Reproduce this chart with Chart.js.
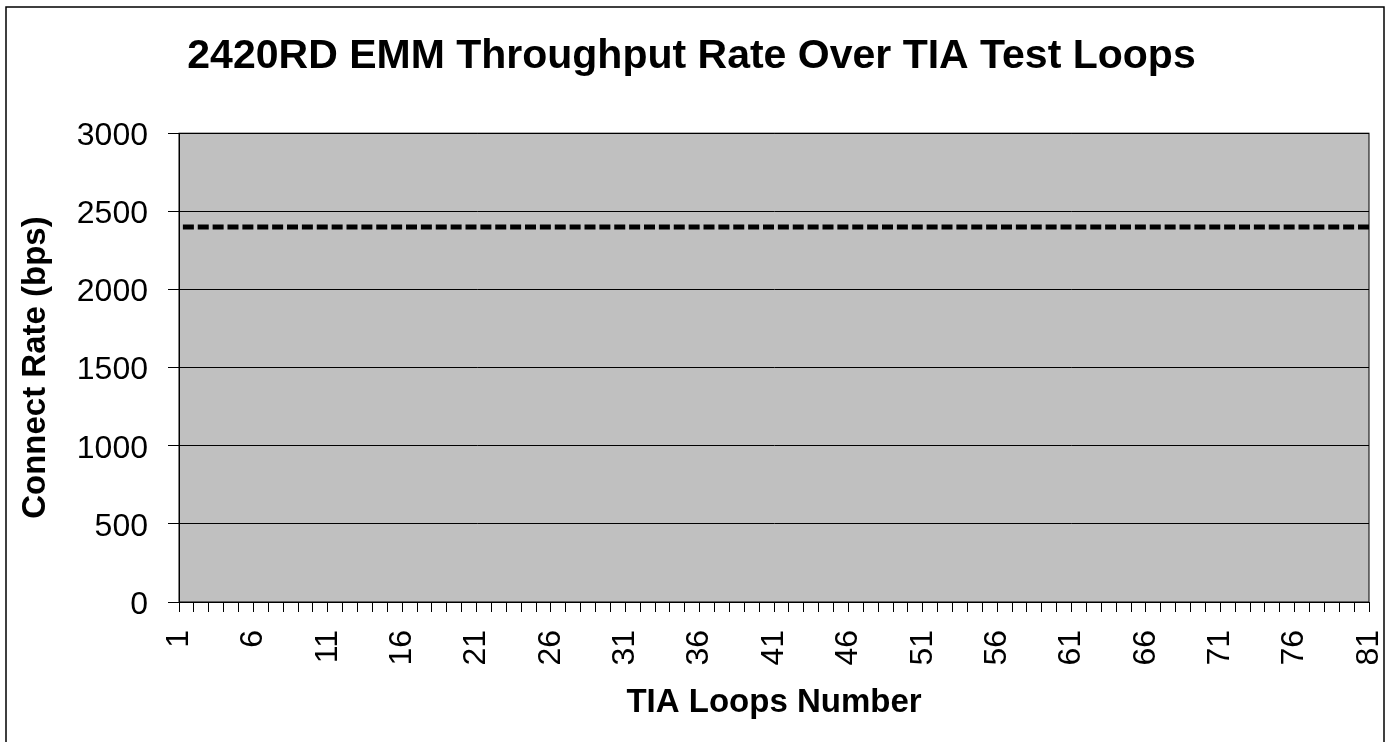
<!DOCTYPE html>
<html lang="en">

<head>
  <meta charset="UTF-8" />
  <title>2420RD EMM Throughput Rate Over TIA Test Loops</title>
  <script src="https://cdn.jsdelivr.net/npm/chart.js@4.4.1/dist/chart.umd.min.js"></script>
  <style>
    body { margin: 0; background: #fff; }
    canvas { display: block; }
  </style>
</head>

<body>
  <canvas id="myChart" width="1388" height="742"></canvas>

  <script>
    // loop numbers (x axis categories)
    const loops = [
      '1', '2', '3', '4', '5', '6', '7', '8', '9', '10',
      '11', '12', '13', '14', '15', '16', '17', '18', '19', '20',
      '21', '22', '23', '24', '25', '26', '27', '28', '29', '30',
      '31', '32', '33', '34', '35', '36', '37', '38', '39', '40',
      '41', '42', '43', '44', '45', '46', '47', '48', '49', '50',
      '51', '52', '53', '54', '55', '56', '57', '58', '59', '60',
      '61', '62', '63', '64', '65', '66', '67', '68', '69', '70',
      '71', '72', '73', '74', '75', '76', '77', '78', '79', '80',
      '81'
    ];

    // connect rate per loop (bps)
    const connectRate = [
      2400, 2400, 2400, 2400, 2400, 2400, 2400, 2400, 2400, 2400,
      2400, 2400, 2400, 2400, 2400, 2400, 2400, 2400, 2400, 2400,
      2400, 2400, 2400, 2400, 2400, 2400, 2400, 2400, 2400, 2400,
      2400, 2400, 2400, 2400, 2400, 2400, 2400, 2400, 2400, 2400,
      2400, 2400, 2400, 2400, 2400, 2400, 2400, 2400, 2400, 2400,
      2400, 2400, 2400, 2400, 2400, 2400, 2400, 2400, 2400, 2400,
      2400, 2400, 2400, 2400, 2400, 2400, 2400, 2400, 2400, 2400,
      2400, 2400, 2400, 2400, 2400, 2400, 2400, 2400, 2400, 2400,
      2400
    ];

    // y axis range
    const yMin = 0;
    const yMax = 3000;
    const yStep = 500;

    const FONT = '"Liberation Sans", Arial, sans-serif';
    Chart.defaults.color = '#000';
    Chart.defaults.font.family = FONT;

    // white page, grey plot area, frame round the whole chart
    const backdrop = {
      id: 'backdrop',
      beforeDraw(chart) {
        const { ctx, chartArea: a } = chart;
        ctx.save();
        ctx.fillStyle = '#fff';
        ctx.fillRect(0, 0, chart.width, chart.height);
        ctx.fillStyle = '#c0c0c0';
        ctx.fillRect(a.left, a.top, a.right - a.left, a.bottom - a.top);
        ctx.restore();
      },
      afterDraw(chart) {
        const { ctx, chartArea: a } = chart;
        ctx.save();
        ctx.strokeStyle = '#000';
        ctx.lineWidth = 1;
        ctx.strokeRect(a.left, a.top, a.right - a.left, a.bottom - a.top);
        ctx.lineWidth = 1.5;
        ctx.strokeRect(6, 7, chart.width - 4 - 6, chart.height + 10);
        ctx.restore();
      }
    };

    const ctx = document.getElementById('myChart').getContext('2d');

    const myChart = new Chart(ctx, {
      type: 'line',
      data: {
        labels: loops,
        datasets: [{
          label: 'Connect Rate',
          data: connectRate,
          borderColor: '#000',
          borderWidth: 5,
          borderDash: [11, 3.875],
          borderDashOffset: 11,
          borderCapStyle: 'butt',
          pointRadius: 0,
          tension: 0
        }]
      },
      options: {
        responsive: false,
        animation: false,
        layout: { padding: { left: 14, right: 19, top: 0, bottom: 0 } },
        plugins: {
          legend: { display: false },
          tooltip: { enabled: false },
          title: {
            display: true,
            text: '2420RD EMM Throughput Rate Over TIA Test Loops',
            color: '#000',
            font: { size: 41, weight: 'bold' },
            padding: { top: 32, bottom: 52 }
          }
        },
        scales: {
          x: {
            grid: {
              drawOnChartArea: false,
              color: '#000',
              tickLength: 10
            },
            border: { color: '#000', width: 1 },
            ticks: {
              autoSkip: false,
              maxRotation: 90,
              minRotation: 90,
              padding: 18,
              font: { size: 32 },
              callback: function (value, index) {
                return index % 5 === 0 ? loops[index] : '';
              }
            },
            title: {
              display: true,
              text: 'TIA Loops Number',
              font: { size: 33, weight: 'bold' },
              padding: { top: 0, bottom: 19 }
            },
            afterFit(scale) {
              scale.height = 140;
              scale.paddingLeft = 0;
              scale.paddingRight = 0;
            }
          },
          y: {
            min: yMin,
            max: yMax,
            grid: { color: '#000', tickLength: 11 },
            border: { color: '#000', width: 1 },
            ticks: {
              stepSize: yStep,
              padding: 20,
              labelOffset: 3,
              font: { size: 32 },
              callback: function (value) { return String(value); }
            },
            title: {
              display: true,
              text: 'Connect Rate (bps)',
              font: { size: 33, weight: 'bold' },
              padding: { top: 2, bottom: 0 }
            },
            afterFit(scale) { scale.width = 165; }
          }
        }
      },
      plugins: [backdrop]
    });
  </script>
</body>

</html>
